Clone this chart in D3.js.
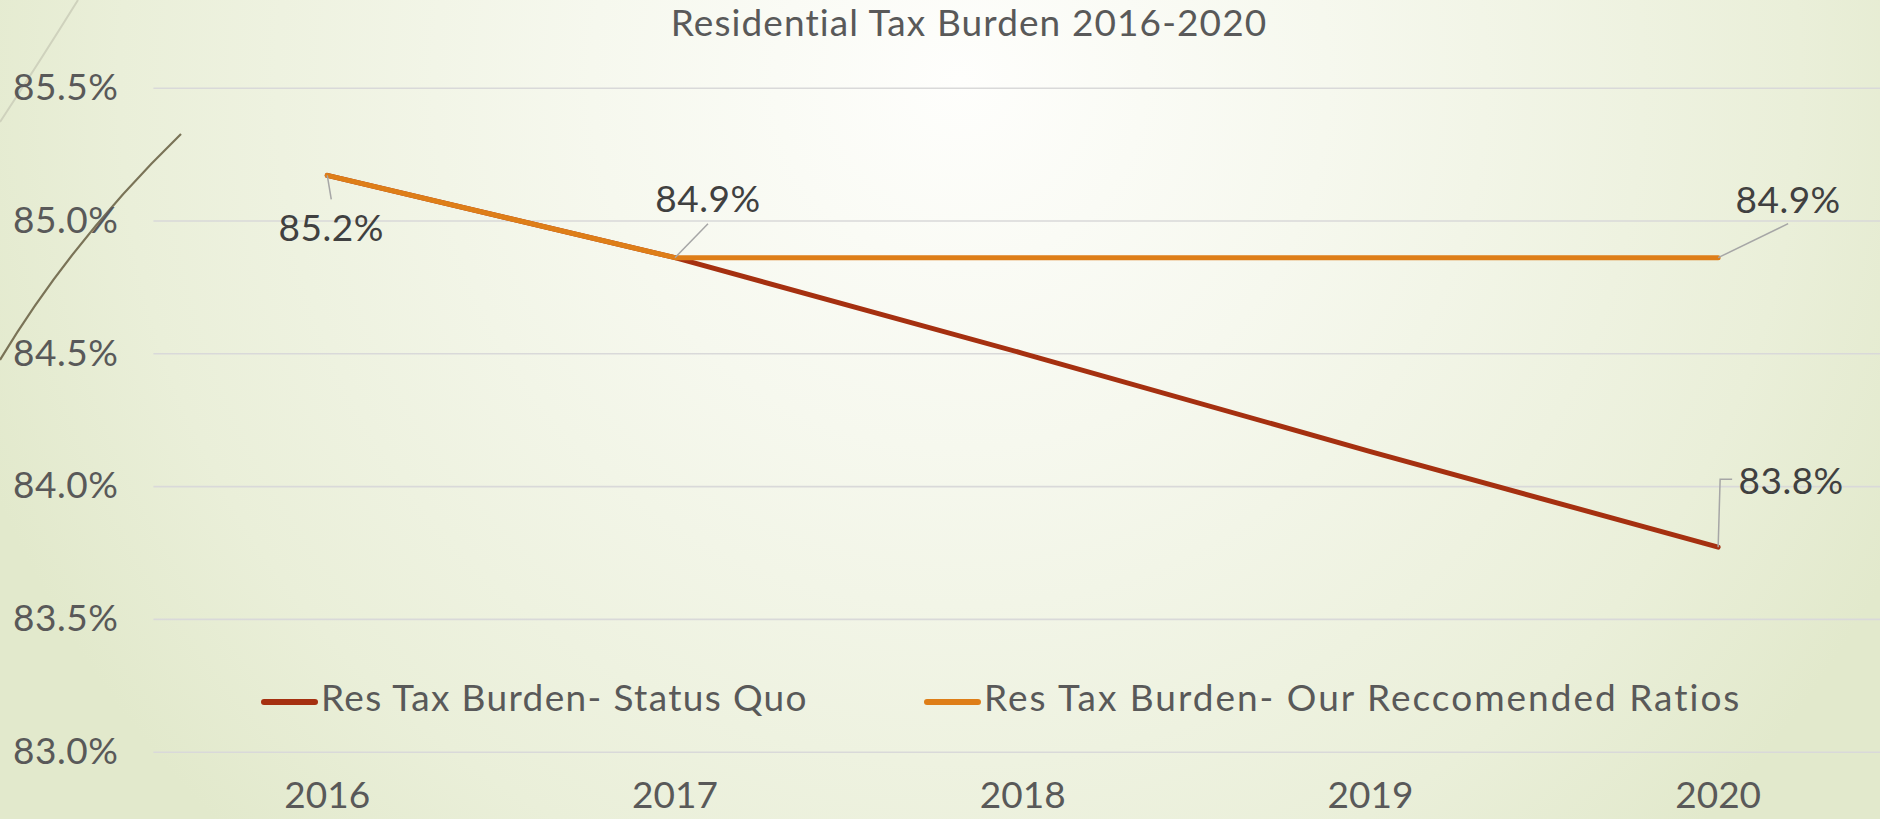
<!DOCTYPE html>
<html>
<head>
<meta charset="utf-8">
<script src="https://cdn.jsdelivr.net/npm/d3@7"></script>
<style>
  body { margin: 0; overflow: hidden; }
  svg { display: block; }
</style>
</head>
<body>
<script>
// chart data
var title = "Residential Tax Burden 2016-2020";
var years = ["2016", "2017", "2018", "2019", "2020"];
var statusQuo = [85.17, 84.86, 84.50, 84.13, 83.77];
var recommended = [85.17, 84.86, 84.86, 84.86, 84.86];
var seriesNames = ["Res Tax Burden- Status Quo", "Res Tax Burden- Our Reccomended Ratios"];
var yTicks = [83.0, 83.5, 84.0, 84.5, 85.0, 85.5];

var W = 1880, H = 819;
var margin = { top: 87.7, right: -12, bottom: 67.3, left: 153.4 };
var fontFam = "'Century Gothic', Lato, sans-serif";
var textColor = "#595959";
var colors = ["#a53010", "#de7e18"];

var svg = d3.select("body").append("svg")
    .attr("width", W)
    .attr("height", H);

// background
var defs = svg.append("defs");
var grad = defs.append("radialGradient")
    .attr("id", "bg")
    .attr("gradientUnits", "userSpaceOnUse")
    .attr("cx", 960).attr("cy", 80).attr("r", 1050);
grad.append("stop").attr("offset", 0).attr("stop-color", "#fefefc");
grad.append("stop").attr("offset", 0.35).attr("stop-color", "#f6f8ee");
grad.append("stop").attr("offset", 0.8).attr("stop-color", "#eaefd9");
grad.append("stop").attr("offset", 1).attr("stop-color", "#e2e9cc");
svg.append("rect").attr("width", W).attr("height", H).attr("fill", "url(#bg)");

// decorative theme curves on the left edge
svg.append("path")
    .attr("d", "M78,0 Q42,58 0,122")
    .attr("fill", "none").attr("stroke", "#cfd2bd").attr("stroke-width", 2);
svg.append("path")
    .attr("d", "M181,134 Q72,240 0,360")
    .attr("fill", "none").attr("stroke", "#7a7357").attr("stroke-width", 2.2);

var x = d3.scaleBand().domain(years).range([margin.left, W - margin.right]);
var y = d3.scaleLinear().domain([83, 85.5]).range([H - margin.bottom, margin.top]);
function px(i) { return x(years[i]) + x.bandwidth() / 2; }

// gridlines + y labels
var yAxis = d3.axisLeft(y).tickValues(yTicks)
    .tickSize(-(W - margin.left))
    .tickPadding(35)
    .tickFormat(function (d) { return d3.format(".1f")(d) + "%"; });
var gy = svg.append("g")
    .attr("transform", "translate(" + margin.left + ",0)")
    .call(yAxis);
gy.select(".domain").remove();
gy.selectAll(".tick line").attr("stroke", "#d9d9d9").attr("stroke-width", 1.6);
gy.selectAll(".tick text")
    .attr("fill", textColor)
    .style("font-family", fontFam)
    .style("font-size", "37px")
    .style("letter-spacing", "0.5px");

// x labels
var xAxis = d3.axisBottom(x).tickSize(0).tickPadding(30);
var gx = svg.append("g")
    .attr("transform", "translate(0," + (H - margin.bottom) + ")")
    .call(xAxis);
gx.select(".domain").remove();
gx.selectAll(".tick text")
    .attr("fill", textColor)
    .style("font-family", fontFam)
    .style("font-size", "37px");

// title
svg.append("text")
    .attr("x", 969).attr("y", 27)
    .attr("text-anchor", "middle")
    .attr("dominant-baseline", "middle")
    .attr("fill", textColor)
    .style("font-family", fontFam)
    .style("font-size", "37px")
    .style("letter-spacing", "1.1px")
    .text(title);

// lines
var line = d3.line()
    .x(function (d, i) { return px(i); })
    .y(function (d) { return y(d); });

[statusQuo, recommended].forEach(function (s, k) {
    svg.append("path")
        .datum(s)
        .attr("d", line)
        .attr("fill", "none")
        .attr("stroke", colors[k])
        .attr("stroke-width", 5)
        .attr("stroke-linecap", "round")
        .attr("stroke-linejoin", "round");
});

// data labels with leader lines
var labels = [
    { s: recommended, i: 0, tx: 4, ty: 66, lead: [[4, 24]] },
    { s: recommended, i: 1, tx: 33, ty: -46, lead: [[33, -34]] },
    { s: recommended, i: 4, tx: 70, ty: -45, lead: [[70, -34]] },
    { s: statusQuo, i: 4, tx: 73, ty: -53, lead: [[2, -68], [14, -68]] }
];
labels.forEach(function (L) {
    var x0 = px(L.i), y0 = y(L.s[L.i]);
    var pts = [[x0, y0]].concat(L.lead.map(function (p) { return [x0 + p[0], y0 + p[1]]; }));
    svg.append("path")
        .attr("d", d3.line()(pts))
        .attr("fill", "none")
        .attr("stroke", "#a6a6a6")
        .attr("stroke-width", 1.5);
    svg.append("text")
        .attr("x", x0 + L.tx).attr("y", y0 + L.ty)
        .attr("text-anchor", "middle")
        .attr("fill", "#404040")
        .style("font-family", fontFam)
        .style("font-size", "37px")
        .style("letter-spacing", "0.5px")
        .text(d3.format(".1f")(L.s[L.i]) + "%");
});

// legend
var legendX = [261, 924];
var legendSpacing = ["1.35px", "2px"];
var legend = svg.append("g").attr("transform", "translate(0,702)");
seriesNames.forEach(function (name, k) {
    legend.append("line")
        .attr("x1", legendX[k] + 3).attr("x2", legendX[k] + 54)
        .attr("stroke", colors[k])
        .attr("stroke-width", 6)
        .attr("stroke-linecap", "round");
    legend.append("text")
        .attr("x", legendX[k] + 60)
        .attr("dominant-baseline", "middle")
        .attr("fill", textColor)
        .style("font-family", fontFam)
        .style("font-size", "37px")
        .style("letter-spacing", legendSpacing[k])
        .text(name);
});
</script>
</body>
</html>
